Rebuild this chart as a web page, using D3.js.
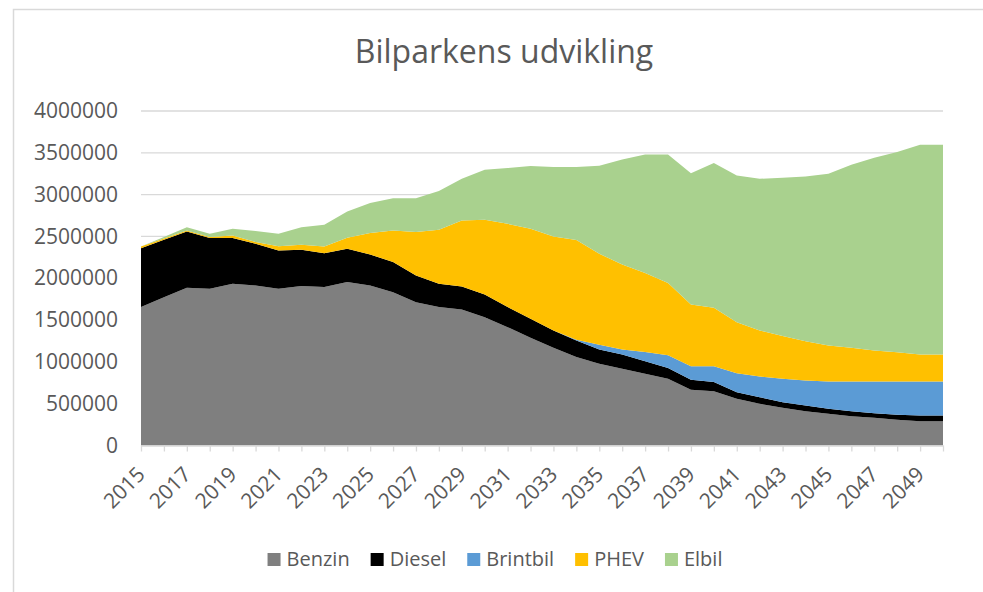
<!DOCTYPE html>
<html>
<head>
<meta charset="utf-8">
<script src="https://cdn.jsdelivr.net/npm/d3@7"></script>
<style>
  body { margin: 0; background: #fff; }
  svg { display: block; font-family: "Open Sans", sans-serif; }
</style>
</head>
<body>
<svg id="chart"></svg>
<script>
// Years 2015..2050
const years = d3.range(2015, 2051);
const seriesNames = ['Benzin', 'Diesel', 'Brintbil', 'PHEV', 'Elbil'];

// values (number of cars)
const benzin = [1655000,1774000,1886000,1874000,1934000,1914000,1874000,1906000,1894000,1954000,
  1914000,1834000,1714000,1655000,1627000,1535000,1415000,1288000,1168000,1057000,
  977000,917000,857000,797000,666000,650000,558000,498000,451000,411000,
  379000,351000,331000,307000,291000,291000];
const diesel = [705000,686000,674000,606000,546000,498000,458000,434000,406000,398000,
  371000,359000,319000,279000,275000,271000,240000,227000,208000,200000,
  172000,170000,150000,130000,119000,108000,80000,80000,67000,67000,
  60000,60000,56000,60000,68000,68000];
const brintbil = [0,0,0,0,0,0,0,0,0,0,
  0,0,0,0,0,0,0,0,0,8000,
  55000,60000,111000,151000,164000,191000,227000,247000,279000,299000,
  327000,355000,379000,399000,407000,407000];
const phev = [20000,14000,12000,12000,32000,20000,52000,60000,80000,132000,
  255000,379000,519000,646000,789000,893000,996000,1077000,1124000,1191000,
  1089000,1017000,945000,866000,737000,698000,610000,551000,511000,471000,
  430000,402000,370000,350000,322000,322000];
const elbil = [0,20000,39000,40000,80000,132000,148000,211000,259000,315000,
  359000,386000,406000,462000,499000,598000,666000,749000,829000,873000,
  1052000,1256000,1416000,1535000,1571000,1730000,1754000,1814000,1894000,1970000,
  2053000,2189000,2305000,2393000,2508000,2508000];
const yTicks = [0,500000,1000000,1500000,2000000,2500000,3000000,3500000,4000000];
const colors = ['#7f7f7f', '#000000', '#5b9bd5', '#ffc000', '#a9d18e'];

const width = 983, height = 592;
const margin = {top: 111, right: 40, bottom: 146.5, left: 141};
const innerW = width - margin.left - margin.right;
const innerH = height - margin.top - margin.bottom;

const svg = d3.select('#chart').attr('width', width).attr('height', height);

// chart frame (runs off right and bottom edges)
svg.append('path')
  .attr('d', `M13.5,${height + 2}V9.5H${width + 2}`)
  .attr('fill', 'none')
  .attr('stroke', '#d9d9d9')
  .attr('stroke-width', 1.5);

// title
svg.append('text')
  .attr('x', 504)
  .attr('y', 63)
  .attr('text-anchor', 'middle')
  .attr('fill', '#595959')
  .style('font-size', '32px')
  .text('Bilparkens udvikling');

const table = years.map((y, i) => ({
  year: y, Benzin: benzin[i], Diesel: diesel[i], Brintbil: brintbil[i], PHEV: phev[i], Elbil: elbil[i]
}));

const xScale = d3.scaleLinear().domain([2015, 2050]).range([0, innerW]);
const yScale = d3.scaleLinear().domain([0, 4000000]).range([innerH, 0]);
const colorScale = d3.scaleOrdinal().domain(seriesNames).range(colors);

const chart = svg.append('g').attr('transform', `translate(${margin.left},${margin.top})`);

// gridlines
chart.append('g')
  .selectAll('line')
  .data(yTicks.slice(1))
  .join('line')
    .attr('x1', 0).attr('x2', innerW)
    .attr('y1', d => yScale(d)).attr('y2', d => yScale(d))
    .attr('stroke', '#d9d9d9')
    .attr('stroke-width', 1.3);

// stacked areas
const stacked = d3.stack().keys(seriesNames)(table);
const area = d3.area()
  .x(d => xScale(d.data.year))
  .y0(d => yScale(d[0]))
  .y1(d => yScale(d[1]));

chart.selectAll('.layer')
  .data(stacked)
  .join('path')
    .attr('class', 'layer')
    .attr('d', area)
    .attr('fill', d => colorScale(d.key));

// y axis labels
const yAxis = d3.axisLeft(yScale).tickValues(yTicks).tickSize(0).tickPadding(23).tickFormat(d3.format('d'));
const yAxisG = chart.append('g').call(yAxis);
yAxisG.select('.domain').remove();
yAxisG.selectAll('text')
  .attr('fill', '#595959')
  .style('font-size', '21px')
  .style('font-family', '"Open Sans", sans-serif');

// x axis
const xAxis = d3.axisBottom(xScale).tickValues(years).tickSize(6).tickSizeOuter(0).tickFormat('');
const xAxisG = chart.append('g').attr('transform', `translate(0,${innerH})`).call(xAxis);
xAxisG.select('.domain').attr('stroke', '#d9d9d9').attr('stroke-width', 1.5);
xAxisG.selectAll('.tick line').attr('stroke', '#d9d9d9').attr('stroke-width', 1.3);

chart.append('g')
  .selectAll('text')
  .data(years.filter((y, i) => i % 2 === 0))
  .join('text')
    .attr('transform', d => `translate(${xScale(d)},${innerH + 25}) rotate(-45)`)
    .attr('text-anchor', 'end')
    .attr('dy', '0.36em')
    .attr('fill', '#595959')
    .style('font-size', '21px')
    .text(d => d);

// legend
const legend = svg.append('g');
let lx = 0;
seriesNames.forEach((name, i) => {
  const item = legend.append('g').attr('transform', `translate(${lx},0)`);
  item.append('rect')
    .attr('x', 0).attr('y', -13)
    .attr('width', 13).attr('height', 13)
    .attr('fill', colors[i]);
  const t = item.append('text')
    .attr('x', 19).attr('y', 0)
    .attr('fill', '#595959')
    .style('font-size', '20px')
    .text(name);
  lx += 19 + t.node().getComputedTextLength() + 21;
});
lx -= 21;
legend.attr('transform', `translate(${495 - lx / 2},566)`);
</script>
</body>
</html>
